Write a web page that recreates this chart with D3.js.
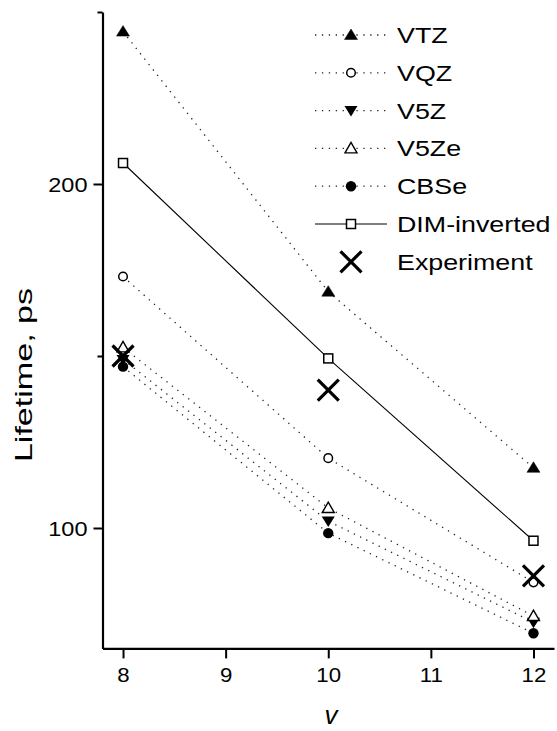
<!DOCTYPE html>
<html>
<head>
<meta charset="utf-8">
<script src="https://cdn.jsdelivr.net/npm/d3@7"></script>
<style>
  body { margin: 0; background: #fff; }
  text { font-family: "Liberation Sans", Arial, sans-serif; fill: #000; }
</style>
</head>
<body>
<svg id="chart" width="557" height="731"></svg>
<script>

/* Data */
/* ==== */

var vLevels = [8, 10, 12];

var seriesNames = ['VTZ', 'VQZ', 'V5Z', 'V5Ze', 'CBSe', 'DIM-inverted', 'Experiment'];

var vtz          = [244.3, 168.7, 117.5];
var vqz          = [173.1, 120.3, 84.2];
var v5z          = [149.0, 102.0, 72.6];
var v5ze         = [152.5, 105.8, 74.4];
var cbse         = [146.9, 98.5, 69.4];
var dimInverted  = [206.1, 149.3, 96.3];
var experiment   = [150.0, 140.1, 86.1];

var xTicks = [8, 9, 10, 11, 12];
var yTicks = [100, 150, 200, 250];
var yLabelled = [100, 200];

var xTitle = 'v',
    yTitle = 'Lifetime, ps';


/* Set-up */
/* ====== */

var svg = d3.select('#chart');

var x = d3.scaleLinear()
    .domain([7.8, 12.2])
    .range([102.5, 554]);

var y = d3.scaleLinear()
    .domain([65, 250])
    .range([648.4, 12]);

// how each series is drawn
var styles = {
  'VTZ':          { values: vtz,         marker: 'triUp',      line: 'dot' },
  'VQZ':          { values: vqz,         marker: 'circleOpen', line: 'dot' },
  'V5Z':          { values: v5z,         marker: 'triDown',    line: 'dot' },
  'V5Ze':         { values: v5ze,        marker: 'triOpen',    line: 'dot' },
  'CBSe':         { values: cbse,        marker: 'circleFill', line: 'dot' },
  'DIM-inverted': { values: dimInverted, marker: 'square',     line: 'solid' },
  'Experiment':   { values: experiment,  marker: 'cross',      line: 'none' }
};

function marker(g, type, cx, cy) {
  if (type === 'triUp' || type === 'triOpen') {
    var w = type === 'triUp' ? 6.5 : 6;
    g.append('path')
      .attr('d', 'M' + (cx - w) + ',' + (cy + 4.5) + 'L' + (cx + w) + ',' + (cy + 4.5) + 'L' + cx + ',' + (cy - 6) + 'Z')
      .attr('fill', type === 'triUp' ? '#000' : '#fff')
      .attr('stroke', '#000')
      .attr('stroke-width', type === 'triUp' ? 0.5 : 1.4)
      .attr('stroke-linejoin', 'miter');
  } else if (type === 'triDown') {
    g.append('path')
      .attr('d', 'M' + (cx - 6.5) + ',' + (cy - 4.5) + 'L' + (cx + 6.5) + ',' + (cy - 4.5) + 'L' + cx + ',' + (cy + 6) + 'Z')
      .attr('fill', '#000');
  } else if (type === 'circleOpen') {
    g.append('circle')
      .attr('cx', cx).attr('cy', cy).attr('r', 4.3)
      .attr('fill', '#fff').attr('stroke', '#000').attr('stroke-width', 1.5);
  } else if (type === 'circleFill') {
    g.append('circle')
      .attr('cx', cx).attr('cy', cy).attr('r', 5.2)
      .attr('fill', '#000');
  } else if (type === 'square') {
    g.append('rect')
      .attr('x', cx - 4.5).attr('y', cy - 4.5)
      .attr('width', 9).attr('height', 9)
      .attr('fill', '#fff').attr('stroke', '#000').attr('stroke-width', 1.5);
  } else if (type === 'cross') {
    var s = 10.5;
    g.append('path')
      .attr('d', 'M' + (cx - s) + ',' + (cy - s) + 'L' + (cx + s) + ',' + (cy + s) +
                 'M' + (cx - s) + ',' + (cy + s) + 'L' + (cx + s) + ',' + (cy - s))
      .attr('stroke', '#000')
      .attr('stroke-width', 3.2)
      .attr('fill', 'none');
  }
}

function lineStyle(sel, kind) {
  if (kind === 'dot') {
    sel.attr('stroke', '#222')
       .attr('stroke-width', 1.3)
       .attr('stroke-dasharray', '1.3,5.6');
  } else {
    sel.attr('stroke', '#000')
       .attr('stroke-width', 1.1);
  }
}


/* Axes */
/* ==== */

var yAxis = svg.append('g')
    .attr('transform', 'translate(102.5,0)')
    .call(d3.axisLeft(y)
      .tickValues(yTicks)
      .tickSize(9)
      .tickSizeOuter(0)
      .tickFormat(function(d) { return yLabelled.indexOf(d) >= 0 ? d : ''; }));

yAxis.select('.domain').attr('stroke-width', 2.2);
yAxis.selectAll('.tick line')
    .attr('stroke-width', 2)
    .attr('x2', function(d) { return yLabelled.indexOf(d) >= 0 ? -9 : -5; });
yAxis.selectAll('.tick text')
    .attr('x', 0)
    .attr('dy', '0.36em')
    .attr('transform', 'translate(-15,0) scale(1.12,1)')
    .style('font-size', '21px');

var xAxis = svg.append('g')
    .attr('transform', 'translate(0,648.4)')
    .call(d3.axisBottom(x)
      .tickValues(xTicks)
      .tickSize(10)
      .tickSizeOuter(0)
      .tickFormat(d3.format('d')));

xAxis.select('.domain').attr('stroke-width', 2.2);
xAxis.selectAll('.tick line').attr('stroke-width', 2);
xAxis.selectAll('.tick text')
    .attr('y', 0)
    .attr('dy', 0)
    .attr('transform', 'translate(0,34) scale(1.06,1)')
    .style('font-size', '21px');

svg.selectAll('.domain, .tick line').attr('stroke', '#000');

svg.append('text')
    .attr('transform', 'translate(32,375) rotate(-90) scale(1.42,1)')
    .attr('text-anchor', 'middle')
    .style('font-size', '24px')
    .text(yTitle);

svg.append('text')
    .attr('x', 331)
    .attr('y', 724)
    .attr('text-anchor', 'middle')
    .style('font-size', '26px')
    .style('font-style', 'italic')
    .text(xTitle);


/* Series */
/* ====== */

var line = d3.line()
    .x(function(d, i) { return x(vLevels[i]); })
    .y(function(d) { return y(d); });

var plot = svg.append('g');

seriesNames.forEach(function(name) {
  var st = styles[name];
  if (st.line === 'none') return;
  plot.append('path')
    .datum(st.values)
    .attr('d', line)
    .attr('fill', 'none')
    .call(lineStyle, st.line);
});

seriesNames.forEach(function(name) {
  var st = styles[name];
  st.values.forEach(function(v, i) {
    marker(plot, st.marker, x(vLevels[i]), y(v));
  });
});


/* Legend */
/* ====== */

var legend = svg.append('g');

seriesNames.forEach(function(name, i) {
  var st = styles[name];
  var ly = 35 + i * 37.8;
  if (st.line !== 'none') {
    legend.append('line')
      .attr('x1', 315).attr('x2', 387)
      .attr('y1', ly).attr('y2', ly)
      .call(lineStyle, st.line);
  }
  marker(legend, st.marker, 351, ly);
  legend.append('text')
    .attr('transform', 'translate(397,' + ly + ') scale(1.22,1)')
    .attr('dy', '0.36em')
    .style('font-size', '22px')
    .text(name);
});

</script>
</body>
</html>
